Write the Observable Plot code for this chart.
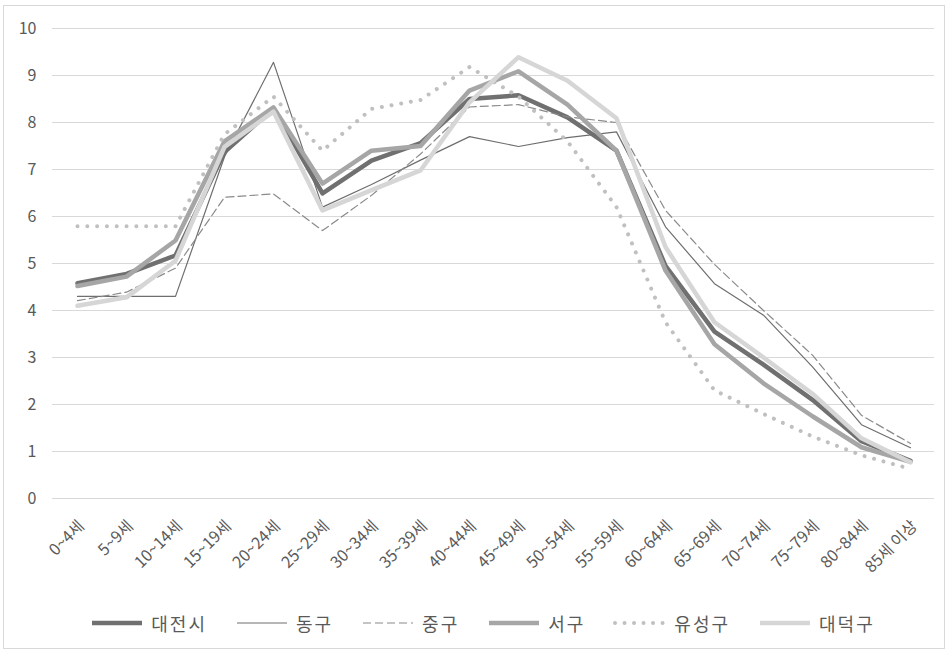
<!DOCTYPE html>
<html>
<head>
<meta charset="utf-8">
<script src="https://cdn.jsdelivr.net/npm/d3@7"></script>
<script src="https://cdn.jsdelivr.net/npm/@observablehq/plot@0.6"></script>
<style>
  html, body { margin: 0; padding: 0; background: #fff; }
  #wrap { position: relative; width: 949px; height: 653px; font-family: "Noto Sans CJK KR", "Noto Sans", sans-serif; color: #595959; }
  #frame { position: absolute; left: 3px; top: 5px; width: 940px; height: 642px; border: 1px solid #d9d9d9; }
  #chart { position: absolute; left: 0; top: 0; }
  #legend { position: absolute; left: 8px; width: 949px; top: 610px; display: flex; justify-content: center; align-items: center; gap: 28px; font-size: 18px; letter-spacing: 2px; }
  .item { display: flex; align-items: center; gap: 7px; }
  .item svg { display: block; }
</style>
</head>
<body>
<div id="wrap">
  <div id="frame"></div>
  <div id="chart"></div>
  <div id="legend"></div>
</div>
<script>
const ages = ["0~4세","5~9세","10~14세","15~19세","20~24세","25~29세","30~34세","35~39세","40~44세","45~49세","50~54세","55~59세","60~64세","65~69세","70~74세","75~79세","80~84세","85세 이상"];
const yTicks = [0,1,2,3,4,5,6,7,8,9,10];

const seriesNames = ["대전시","동구","중구","서구","유성구","대덕구"];
const daejeon = [4.58,4.78,5.17,7.37,8.30,6.49,7.19,7.56,8.50,8.58,8.11,7.40,4.95,3.55,2.85,2.10,1.22,0.80];
const donggu  = [4.30,4.30,4.30,7.27,9.28,6.20,6.68,7.20,7.70,7.49,7.68,7.80,5.78,4.57,3.90,2.80,1.57,1.08];
const junggu  = [4.21,4.39,4.90,6.41,6.48,5.70,6.45,7.33,8.33,8.38,8.12,8.00,6.13,4.98,4.00,3.05,1.77,1.17];
const seogu   = [4.52,4.72,5.49,7.60,8.32,6.70,7.40,7.50,8.68,9.09,8.38,7.40,4.85,3.28,2.45,1.75,1.09,0.78];
const yuseong = [5.79,5.79,5.79,7.75,8.55,7.40,8.29,8.48,9.18,8.55,7.60,6.20,3.75,2.30,1.80,1.32,0.92,0.63];
const daedeok = [4.10,4.28,5.06,7.48,8.23,6.13,6.56,6.98,8.43,9.39,8.89,8.09,5.35,3.75,3.00,2.23,1.28,0.77];

const seriesValues = [daejeon, donggu, junggu, seogu, yuseong, daedeok];
const styles = [
  {stroke: "#707070", strokeWidth: 4.5},
  {stroke: "#6e6e6e", strokeWidth: 1.2},
  {stroke: "#8a8a8a", strokeWidth: 1.2, strokeDasharray: "8 4"},
  {stroke: "#a6a6a6", strokeWidth: 4.5},
  {stroke: "#c0c0c0", strokeWidth: 4, strokeDasharray: "0.01 9.8", strokeLinecap: "round"},
  {stroke: "#d6d6d6", strokeWidth: 4.5}
];

const lineMarks = seriesValues.map((vals, k) =>
  Plot.line(ages.map((a, i) => ({age: a, v: vals[i]})), {
    x: "age", y: "v", strokeLinejoin: "round", ...styles[k]
  })
);

const chart = Plot.plot({
  width: 949,
  height: 590,
  marginLeft: 52,
  marginRight: 15,
  marginTop: 28,
  marginBottom: 92,
  style: {fontFamily: "'Noto Sans CJK KR', 'Noto Sans', sans-serif", color: "#595959", background: "transparent"},
  x: {type: "point", domain: ages, padding: 0.5, label: null},
  y: {domain: [0, 10], label: null},
  marks: [
    Plot.gridY(yTicks, {stroke: "#d9d9d9", strokeOpacity: 1, strokeWidth: 1}),
    Plot.axisY(yTicks, {tickSize: 0, tickPadding: 16, fontSize: 16, fill: "#595959", label: null}),
    Plot.axisX({tickSize: 0, tickRotate: -45, tickPadding: 8, dy: 17, dx: 4, fontSize: 16, fill: "#595959", label: null}),
    ...lineMarks
  ]
});
document.getElementById("chart").appendChild(chart);

const legend = document.getElementById("legend");
seriesNames.forEach((name, k) => {
  const s = styles[k];
  const item = document.createElement("div");
  item.className = "item";
  const ns = "http://www.w3.org/2000/svg";
  const svg = document.createElementNS(ns, "svg");
  svg.setAttribute("width", 54);
  svg.setAttribute("height", 10);
  const ln = document.createElementNS(ns, "line");
  ln.setAttribute("x1", 2); ln.setAttribute("x2", 52);
  ln.setAttribute("y1", 5); ln.setAttribute("y2", 5);
  ln.setAttribute("stroke", s.stroke);
  ln.setAttribute("stroke-width", s.strokeWidth);
  if (s.strokeDasharray) ln.setAttribute("stroke-dasharray", k === 4 ? "0.01 9.5" : s.strokeDasharray);
  if (s.strokeLinecap) ln.setAttribute("stroke-linecap", s.strokeLinecap);
  svg.appendChild(ln);
  const t = document.createElement("span");
  t.textContent = name;
  item.appendChild(svg);
  item.appendChild(t);
  legend.appendChild(item);
});
</script>
</body>
</html>
